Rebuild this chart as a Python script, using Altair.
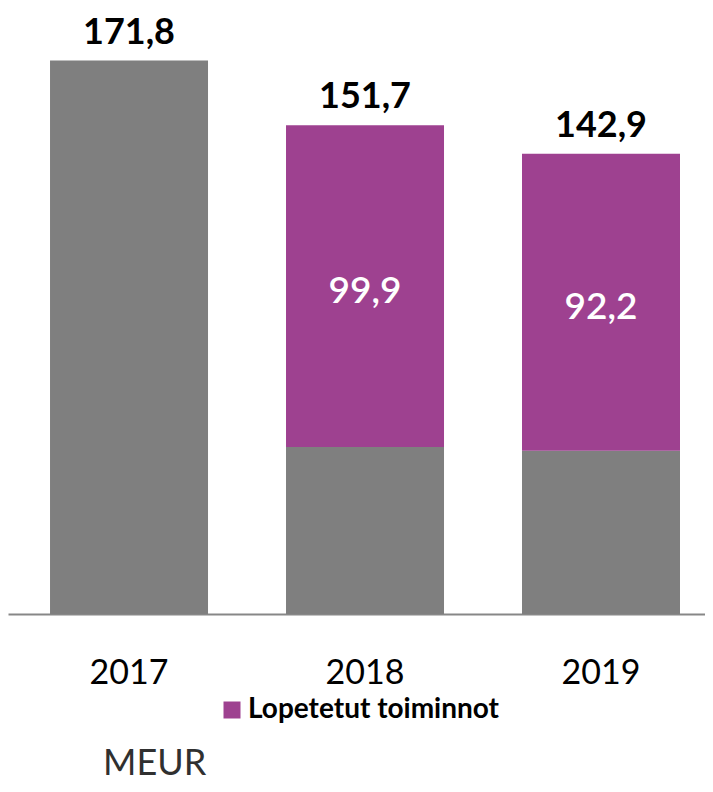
import altair as alt
import pandas as pd

years = ["2017", "2018", "2019"]
continuing = [171.8, 51.8, 50.7]
discontinued = [None, 99.9, 92.2]
totals = [171.8, 151.7, 142.9]
series_names = ["Jatkuvat toiminnot", "Lopetetut toiminnot"]
colors = ["#7f7f7f", "#9e4190"]
unit_label = "MEUR"

rows = []
for i, y in enumerate(years):
    rows.append({"year": y, "series": series_names[0], "value": continuing[i], "order": 0})
    if discontinued[i] is not None:
        rows.append({"year": y, "series": series_names[1], "value": discontinued[i], "order": 1})
df = pd.DataFrame(rows)
tot_df = pd.DataFrame({"year": years, "total": totals})
disc_df = pd.DataFrame({"year": years, "base": continuing, "value": discontinued}).dropna()

FONT = "Lato"

x = alt.X("year:N", title=None,
          scale=alt.Scale(paddingInner=0.3305, paddingOuter=0.142, align=0.627),
          axis=alt.Axis(labelAngle=0, ticks=False, labelPadding=42, labelFontSize=34,
                        labelFont=FONT, labelColor="#000000", domainColor="#878787",
                        domainWidth=2))
yscale = alt.Scale(domain=[0, 185])

bars = alt.Chart(df).mark_bar().encode(
    x=x,
    y=alt.Y("value:Q", stack="zero", scale=yscale, axis=None, title=None),
    color=alt.Color("series:N",
                    scale=alt.Scale(domain=series_names, range=colors),
                    legend=alt.Legend(values=[series_names[1]], title=None, orient="none",
                                      legendX=210, legendY=678, symbolType="square",
                                      symbolSize=289, symbolStrokeWidth=0,
                                      labelFont=FONT, labelFontSize=28, labelFontWeight="bold",
                                      labelColor="#000000", labelOffset=2, labelLimit=400)),
    order=alt.Order("order:Q"),
)

top_labels = alt.Chart(tot_df).transform_calculate(
    lab="replace(format(datum.total, '.1f'), '.', ',')"
).mark_text(font=FONT, fontSize=36, fontWeight="bold", color="#000000",
            baseline="alphabetic", dy=-17).encode(
    x="year:N",
    y=alt.Y("total:Q", scale=yscale),
    text="lab:N",
)

inner_labels = alt.Chart(disc_df).transform_calculate(
    mid="datum.base + datum.value / 2",
    lab="replace(format(datum.value, '.1f'), '.', ',')"
).mark_text(font=FONT, fontSize=37, fontWeight=600, color="#ffffff",
            baseline="middle", dy=6).encode(
    x="year:N",
    y=alt.Y("mid:Q", scale=yscale),
    text="lab:N",
)

meur = alt.Chart(pd.DataFrame({"t": [unit_label]})).mark_text(
    font=FONT, fontSize=36, color="#303030", align="left", baseline="alphabetic"
).encode(x=alt.value(95), y=alt.value(757), text="t:N")

chart = alt.layer(bars, top_labels, inner_labels, meur).properties(
    width=697, height=596,
    autosize=alt.AutoSizeParams(type="none"),
    padding={"left": 0, "top": 10, "right": 0, "bottom": 170},
).configure_view(stroke=None)

chart.save("out.html", embed_options={"renderer": "svg", "actions": False})
